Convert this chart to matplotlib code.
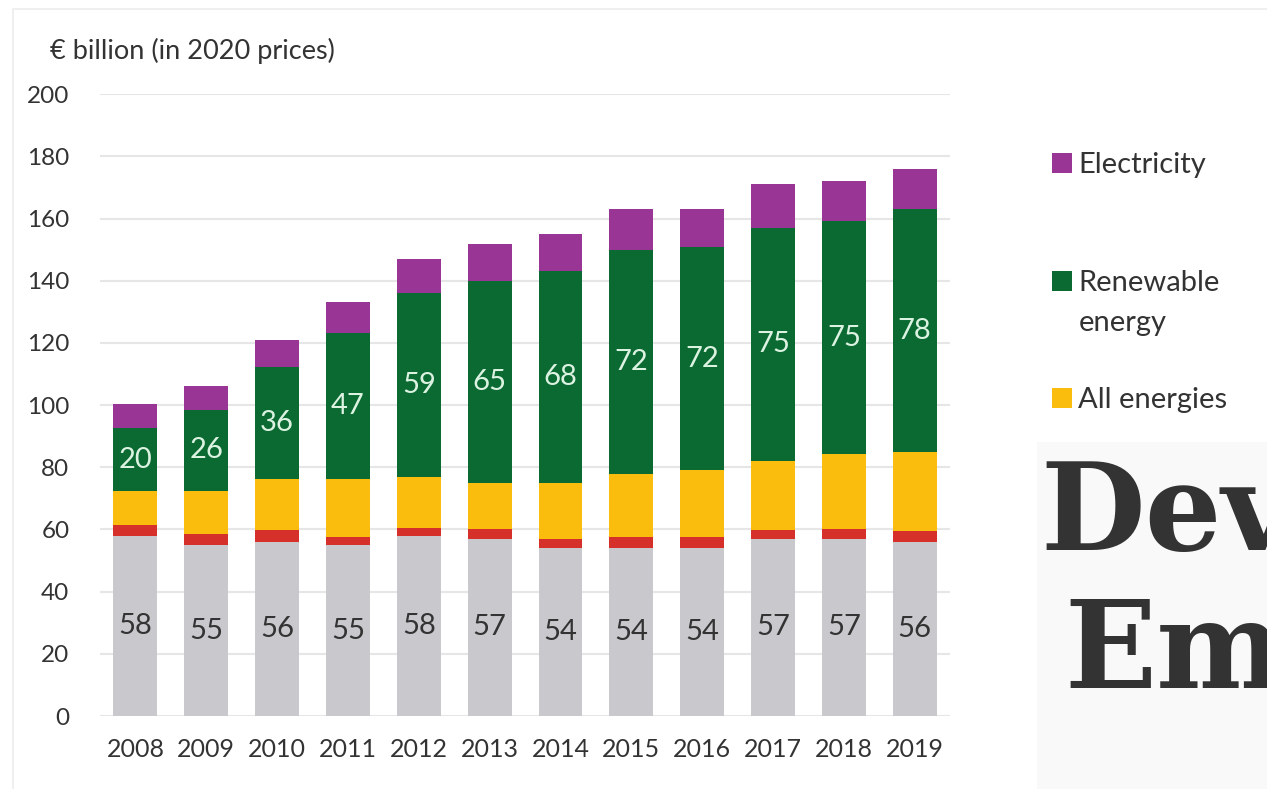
import numpy as np
import matplotlib
matplotlib.use("Agg")
import matplotlib.pyplot as plt
from matplotlib.patches import Rectangle

plt.rcParams['font.family'] = ['Lato', 'DejaVu Sans']

years = ['2008', '2009', '2010', '2011', '2012', '2013', '2014', '2015', '2016', '2017', '2018', '2019']
# stacked segments, bottom to top (EUR billion, 2020 prices)
grey_vals = [58, 55, 56, 55, 58, 57, 54, 54, 54, 57, 57, 56]
red_vals = [3.5, 3.5, 3.8, 2.7, 2.5, 3.0, 3.0, 3.5, 3.5, 2.8, 3.2, 3.6]
all_energies = [11, 14, 16.4, 18.4, 16.5, 15, 18, 20.5, 21.5, 22.3, 24, 25.4]
renewable = [20, 26, 36, 47, 59, 65, 68, 72, 72, 75, 75, 78]
electricity = [8, 7.5, 8.7, 10, 11, 12, 12, 13, 12, 14, 13, 13]

c_grey = '#c9c8cd'
c_red = '#d6302b'
c_yellow = '#fbbd0d'
c_green = '#0b6a32'
c_purple = '#993594'

fig = plt.figure(figsize=(12.67, 7.89), dpi=100)
ax = fig.add_axes([0.0789, 0.0925, 0.671, 0.788])

x = np.arange(len(years))
w = 0.62
bottom = np.zeros(len(years))
bars = {}
for name, vals, col in [('grey', grey_vals, c_grey), ('red', red_vals, c_red),
                        ('All energies', all_energies, c_yellow),
                        ('Renewable', renewable, c_green),
                        ('Electricity', electricity, c_purple)]:
    vals = np.array(vals, dtype=float)
    bars[name] = ax.bar(x, vals, w, bottom=bottom, color=col, zorder=3)
    if name == 'grey':
        for xi, b, v in zip(x, bottom, vals):
            ax.text(xi, b + v / 2, f'{v:.0f}', ha='center', va='center',
                    fontsize=21, color='#333333', zorder=4)
    if name == 'Renewable':
        for xi, b, v in zip(x, bottom, vals):
            ax.text(xi, b + v / 2, f'{v:.0f}', ha='center', va='center',
                    fontsize=21, color='#dcf3e2', zorder=4)
    bottom = bottom + vals

ax.set_xlim(-0.5, len(years) - 0.5)
ax.set_ylim(0, 200)
ax.set_yticks(np.arange(0, 201, 20))
ax.set_xticks(x)
ax.set_xticklabels(years)
ax.grid(axis='y', color='#e6e6e6', linewidth=1.5, zorder=0)
ax.set_axisbelow(True)
for s in ax.spines.values():
    s.set_visible(False)
ax.tick_params(axis='both', length=0, colors='#333333')
ax.tick_params(axis='y', pad=22, labelsize=17.5)
ax.tick_params(axis='x', pad=16, labelsize=18)

fig.text(50 / 1267, 1 - 51 / 789, '€ billion (in 2020 prices)', fontsize=19.5,
         color='#333333', ha='left', va='center')

# legend, one entry at a time (square sits on the first line)
leg_items = [('Electricity', 165), ('Renewable', 283), ('All energies', 400)]
for name, ypix in leg_items:
    fig.legend(handles=[bars[name]], labels=[name], loc='center left',
               bbox_to_anchor=(1052 / 1267, 1 - ypix / 789), frameon=False,
               borderpad=0, borderaxespad=0,
               fontsize=21, handlelength=0.7, handleheight=0.7, handletextpad=0.2,
               labelcolor='#333333')
fig.text(1079 / 1267, 1 - 323 / 789, 'energy', fontsize=21, color='#333333',
         ha='left', va='center')

# faint frame of the screenshot
fig.patches.append(Rectangle((13 / 1267, -0.01), 1.0, 1 - 9 / 789 + 0.01,
                             transform=fig.transFigure, fill=False,
                             edgecolor='#ececec', linewidth=1.2))

# overlaid box with cut-off text
fig.patches.append(Rectangle((1037 / 1267, 0), 1.0, 1 - 442 / 789,
                             transform=fig.transFigure, facecolor='#f9f9f9',
                             edgecolor='none', zorder=5))
fig.text(1040 / 1267, 1 - 550 / 789, 'Dev', fontsize=87, fontweight='bold',
         family='DejaVu Serif', color='#333333', ha='left', va='baseline', zorder=6)
fig.text(1064 / 1267, 1 - 688 / 789, 'Emb', fontsize=87, fontweight='bold',
         family='DejaVu Serif', color='#333333', ha='left', va='baseline', zorder=6)

fig.savefig('out.png', dpi=100)
